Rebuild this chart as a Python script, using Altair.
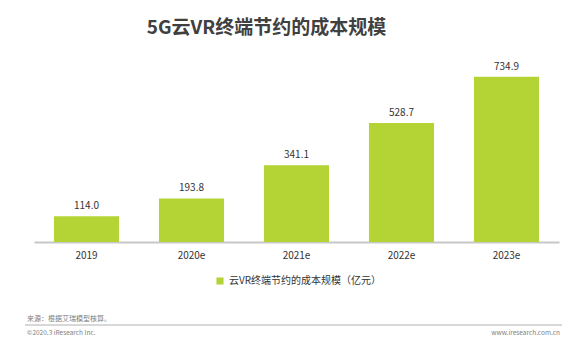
import altair as alt
import pandas as pd

years = ["2019", "2020e", "2021e", "2022e", "2023e"]
values = [114.0, 193.8, 341.1, 528.7, 734.9]
series_name = "云VR终端节约的成本规模（亿元）"
title_text = "5G云VR终端节约的成本规模"
source_text = "来源：根据艾瑞模型核算。"
copyright_text = "©2020.3 iResearch Inc."
site_text = "www.iresearch.com.cn"

FONT = "Microsoft YaHei, Noto Sans CJK SC, sans-serif"
GREEN = "#b4d334"

df = pd.DataFrame({"year": years, "value": values, "series": [series_name] * len(years)})

x = alt.X("year:N", sort=years, title=None,
          scale=alt.Scale(paddingInner=0.38, paddingOuter=0.19),
          axis=alt.Axis(labelAngle=0, ticks=False, domainColor="#c8c8c8", domainWidth=2,
                        labelFont=FONT, labelFontSize=10, labelColor="#333333",
                        labelPadding=8, grid=False))
y = alt.Y("value:Q", title=None, scale=alt.Scale(domain=[0, 800], nice=False, zero=True),
          axis=None)

base = alt.Chart(df)

bars = base.mark_bar(color=GREEN).encode(
    x=x, y=y,
    color=alt.Color("series:N", scale=alt.Scale(range=[GREEN]), title=None,
                    legend=alt.Legend(orient="none", legendX=181, legendY=214,
                                      symbolType="square", symbolSize=50,
                                      symbolStrokeWidth=0,
                                      labelFont=FONT, labelFontSize=10,
                                      labelColor="#333333")),
)

labels = base.mark_text(dy=-10, font=FONT, fontSize=10, color="#333333").encode(
    x=alt.X("year:N", sort=years), y="value:Q",
    text=alt.Text("value:Q", format=".1f"),
)

foot_df = pd.DataFrame({"t": [source_text]})
source = alt.Chart(foot_df).mark_text(align="left", baseline="middle", font=FONT,
                                      fontSize=7, color="#808080").encode(
    x=alt.value(-7), y=alt.value(257), text="t:N")

rule = alt.Chart(foot_df).mark_rule(color="#b0b0b0", strokeWidth=1).encode(
    x=alt.value(-9), x2=alt.value(528), y=alt.value(263))

copy_df = pd.DataFrame({"t": [copyright_text]})
copyright = alt.Chart(copy_df).mark_text(align="left", baseline="middle", font=FONT,
                                         fontSize=6.5, color="#808080").encode(
    x=alt.value(-7), y=alt.value(271), text="t:N")

site_df = pd.DataFrame({"t": [site_text]})
site = alt.Chart(site_df).mark_text(align="right", baseline="middle", font=FONT,
                                    fontSize=6.5, color="#808080").encode(
    x=alt.value(526), y=alt.value(271), text="t:N")

chart = alt.layer(bars, labels, source, rule, copyright, site).properties(
    width=525, height=180,
    background="white",
    autosize=alt.AutoSizeParams(type="none"),
    padding={"left": 34, "top": 62, "right": 13, "bottom": 110},
    title=alt.TitleParams(title_text, font=FONT, fontSize=19, fontWeight="bold",
                          color="#404040", anchor="middle", dx=-30, offset=24),
).configure_view(strokeOpacity=0, strokeWidth=0)

chart.save("out.html", embed_options={"renderer": "svg", "actions": False})
